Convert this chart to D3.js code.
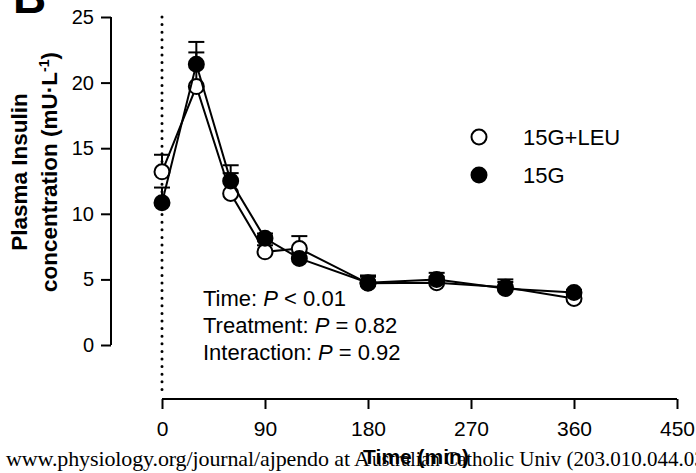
<!DOCTYPE html>
<html>
<head>
<meta charset="utf-8">
<script src="https://cdn.jsdelivr.net/npm/d3@7"></script>
<style>
  body { margin: 0; background: #fff; }
  svg { display: block; font-family: "Liberation Sans", Arial, sans-serif; }
</style>
</head>
<body>
<svg id="chart" width="696" height="473"></svg>
<script>
// time points (min)
var times = [0, 30, 60, 90, 120, 180, 240, 300, 360];
// 15G+LEU (open circles)
var leuMean = [13.2, 19.7, 11.55, 7.1, 7.35, 4.7, 4.75, 4.4, 3.55];
var leuUpper = [14.5, 22.3, 13.7, 7.6, 8.3, 5.2, 5.2, 5.0, 3.9];
// 15G (filled circles)
var glcMean = [10.85, 21.4, 12.5, 8.13, 6.6, 4.75, 5.0, 4.3, 4.0];
var glcUpper = [12.0, 23.1, 13.1, 8.5, 7.0, 5.3, 5.5, 4.8, 4.2];
var xTicks = [0, 90, 180, 270, 360, 450];
var yTicks = [0, 5, 10, 15, 20, 25];
var statLines = [["Time: ", "P", " < 0.01"], ["Treatment: ", "P", " = 0.82"], ["Interaction: ", "P", " = 0.92"]];

var svg = d3.select("#chart");

var x = d3.scaleLinear().domain([0, 450]).range([162, 677]);
var y = d3.scaleLinear().domain([0, 25]).range([345, 17]);
var yAxisX = 111, xAxisY = 399;

// panel letter, mostly cut off at the top
svg.append("text")
  .attr("x", 13).attr("y", 13)
  .style("font-size", "46px").style("font-weight", "bold")
  .text("B");

// y axis
var yAxis = svg.append("g")
  .attr("transform", "translate(" + yAxisX + ",0)")
  .call(d3.axisLeft(y).tickValues(yTicks).tickSize(10).tickPadding(7));
yAxis.select(".domain").attr("stroke-width", 2).attr("d", "M0," + y(25) + "V" + y(0));
yAxis.selectAll(".tick line").attr("stroke-width", 2);
yAxis.selectAll(".tick text").style("font-size", "20px").style("font-family", "Liberation Sans, Arial, sans-serif").attr("fill", "#000");

// x axis
var xAxis = svg.append("g")
  .attr("transform", "translate(0," + xAxisY + ")")
  .call(d3.axisBottom(x).tickValues(xTicks).tickSize(10).tickPadding(12));
xAxis.select(".domain").attr("stroke-width", 2).attr("d", "M" + x(0) + ",0H" + x(450));
xAxis.selectAll(".tick line").attr("stroke-width", 2);
xAxis.selectAll(".tick text").style("font-size", "21px").style("font-family", "Liberation Sans, Arial, sans-serif").attr("fill", "#000");

// dotted line at time 0
svg.append("line")
  .attr("x1", x(0)).attr("x2", x(0))
  .attr("y1", y(25)).attr("y2", xAxisY - 3)
  .attr("stroke", "#000").attr("stroke-width", 3)
  .attr("stroke-linecap", "round")
  .attr("stroke-dasharray", "0 7.6");

// y label
var yl = svg.append("text")
  .attr("transform", "translate(27,172) rotate(-90)")
  .attr("text-anchor", "middle")
  .style("font-size", "22.5px").style("font-weight", "bold");
yl.append("tspan").attr("x", 0).attr("dy", 0).text("Plasma Insulin");
yl.append("tspan").attr("x", 0).attr("dy", 30).text("concentration (mU\u00B7L");
yl.append("tspan").attr("dy", -8).style("font-size", "14px").text("-1");
yl.append("tspan").attr("dy", 8).text(")");

// watermark (three pieces so the spacing follows the scan)
var wm = svg.append("g")
  .style("font-family", "Liberation Serif, Times New Roman, serif");
wm.append("text").attr("x", 6).attr("y", 466)
  .style("font-size", "22px")
  .attr("textLength", 364).attr("lengthAdjust", "spacing")
  .text("www.physiology.org/journal/ajpendo at A");
wm.append("text").attr("x", 372).attr("y", 466)
  .style("font-size", "21px")
  .attr("textLength", 100).attr("lengthAdjust", "spacingAndGlyphs")
  .text("ustralian Cat");
wm.append("text").attr("x", 472).attr("y", 466)
  .style("font-size", "21px")
  .text("holic Univ (203.010.044.030) on");

// x label
svg.append("text")
  .attr("x", 416).attr("y", 464)
  .attr("text-anchor", "middle")
  .style("font-size", "21px").style("font-weight", "bold")
  .text("Time (min)");

// error bars
function errorBars(mean, upper) {
  var g = svg.append("g").attr("stroke", "#000").attr("stroke-width", 2);
  times.forEach(function (t, i) {
    g.append("line").attr("x1", x(t)).attr("x2", x(t)).attr("y1", y(mean[i])).attr("y2", y(upper[i]));
    g.append("line").attr("x1", x(t) - 8).attr("x2", x(t) + 8).attr("y1", y(upper[i])).attr("y2", y(upper[i]));
  });
}
errorBars(leuMean, leuUpper);
errorBars(glcMean, glcUpper);

var line = d3.line().x(function (d) { return x(d[0]); }).y(function (d) { return y(d[1]); });

function series(mean, fill) {
  var pts = times.map(function (t, i) { return [t, mean[i]]; });
  svg.append("path").datum(pts)
    .attr("d", line).attr("fill", "none")
    .attr("stroke", "#000").attr("stroke-width", 2);
  svg.append("g").selectAll("circle").data(pts).enter().append("circle")
    .attr("cx", function (d) { return x(d[0]); })
    .attr("cy", function (d) { return y(d[1]); })
    .attr("r", 7.5)
    .attr("fill", fill).attr("stroke", "#000").attr("stroke-width", 2);
}
series(leuMean, "#fff");
series(glcMean, "#000");

// legend
var legend = [["15G+LEU", "#fff"], ["15G", "#000"]];
legend.forEach(function (d, i) {
  var ly = 137 + i * 38;
  svg.append("circle").attr("cx", 479).attr("cy", ly).attr("r", 7.5)
    .attr("fill", d[1]).attr("stroke", "#000").attr("stroke-width", 2);
  svg.append("text").attr("x", 523).attr("y", ly + 8)
    .style("font-size", "22px").text(d[0]);
});

// statistics text
statLines.forEach(function (s, i) {
  var t = svg.append("text").attr("x", 203).attr("y", 306 + i * 27).style("font-size", "22px");
  t.append("tspan").text(s[0]);
  t.append("tspan").style("font-style", "italic").text(s[1]);
  t.append("tspan").text(s[2]);
});
</script>
</body>
</html>
